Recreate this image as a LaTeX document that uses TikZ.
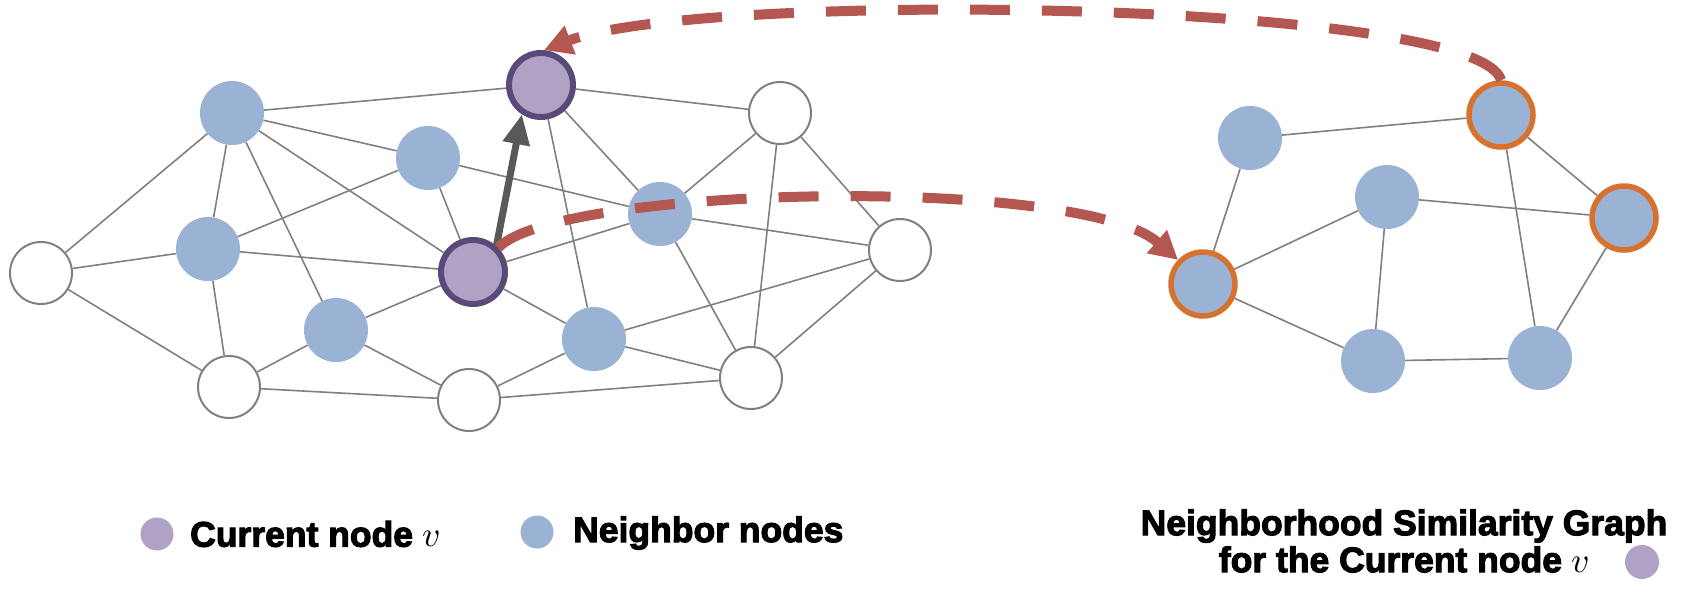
\documentclass[tikz,border=0pt]{standalone}
\usepackage{fontspec}
\setmainfont{Liberation Sans}
\newfontfamily\heavy{Liberation Sans}[BoldFeatures={FakeBold=3}]
\newfontfamily\lmmath{Latin Modern Math}
\usetikzlibrary{arrows.meta}
\definecolor{nblue}{RGB}{154,178,212}
\definecolor{pfill}{RGB}{176,162,196}
\definecolor{pborder}{RGB}{90,74,122}
\definecolor{oring}{RGB}{215,114,46}
\definecolor{edgegray}{RGB}{128,128,128}
\definecolor{dred}{RGB}{180,87,80}
\definecolor{agray}{RGB}{89,89,89}
\newcommand{\vmath}{{\lmmath\mdseries 𝑣}}
\begin{document}
\begin{tikzpicture}[x=1pt,y=-1pt,
  base/.style={circle, inner sep=0pt},
  bnode/.style={base, fill=nblue, minimum size=64pt},
  wnode/.style={base, fill=white, draw=edgegray, line width=2pt, minimum size=62pt},
  pnode/.style={base, fill=pfill, draw=pborder, line width=6pt, minimum size=64pt},
  onode/.style={base, fill=nblue, draw=oring, line width=5.5pt, minimum size=64pt},
  gline/.style={draw=edgegray, line width=1.6pt},
  redarrow/.style={draw=dred, line width=10pt, dash pattern=on 40pt off 32pt,
     -{Triangle[length=28pt,width=29pt]}},
  grayarrow/.style={draw=agray, line width=7pt, -{Triangle[length=30pt,width=26pt]}},
  dot/.style={circle, inner sep=0pt, minimum size=33pt},
  lbl/.style={font=\heavy\bfseries\fontsize{35.5}{37}\selectfont, inner sep=0pt}
]
\useasboundingbox (0,0) rectangle (1684,592);

% left graph nodes
\node[wnode] (W1) at (41,273) {};
\node[bnode] (B1) at (232,113) {};
\node[bnode] (B2) at (428,158) {};
\node[pnode] (Pt) at (541,85) {};
\node[bnode] (B3) at (208,249) {};
\node[pnode] (Pc) at (473,272) {};
\node[bnode] (B4) at (336,330) {};
\node[wnode] (W2) at (229,387) {};
\node[wnode] (W3) at (469,400) {};
\node[bnode] (B5) at (594,339) {};
\node[bnode] (B6) at (660,214) {};
\node[wnode] (W4) at (780,113) {};
\node[wnode] (W5) at (900,250) {};
\node[wnode] (W6) at (751,378) {};

% right graph nodes
\node[bnode] (R1) at (1250,138) {};
\node[onode] (R2) at (1501,115) {};
\node[bnode] (R3) at (1387,197) {};
\node[onode] (R4) at (1624,218) {};
\node[onode] (R5) at (1203,284) {};
\node[bnode] (R6) at (1373,361) {};
\node[bnode] (R7) at (1540,358) {};

% left graph edges
\foreach \a/\b in {W1/B1, W1/B3, W1/W2,
  B1/Pt, B1/B2, B1/Pc, B1/B3, B1/B4,
  B3/B2, B3/Pc, B3/W2,
  B2/B6, B2/Pc,
  Pt/B5, Pt/B6, Pt/W4,
  Pc/B6, Pc/B5, Pc/B4,
  B4/W2, B4/W3, W2/W3,
  B5/W3, B5/W5, B5/W6,
  B6/W4, B6/W5, B6/W6,
  W3/W6, W6/W4, W6/W5, W4/W5}
  \draw[gline] (\a) -- (\b);

% right graph edges
\foreach \a/\b in {R1/R2, R1/R5, R5/R3, R5/R6, R3/R6, R3/R4, R2/R4, R2/R7, R4/R7, R6/R7}
  \draw[gline] (\a) -- (\b);

% gray arrow
\draw[grayarrow] (Pc.48) -- (Pt.237);

% red dashed arrows
\draw[redarrow] (Pc.44) .. controls (560,185) and (1080,175) .. (R5.136);
\draw[redarrow] (R2.north) .. controls (1480,0) and (700,-10) .. (Pt.85);

% legend
\node[dot, fill=pfill] (d1) at (157,534) {};
\node[lbl, anchor=west] (t1) at (190,534) {Current node \vmath};
\node[dot, fill=nblue] (d2) at (537,532) {};
\node[lbl, anchor=west] (t2) at (573,533) {Neighbor nodes};
\node[lbl, align=center] (t3) at (1404,541) {Neighborhood Similarity Graph\\for the Current node \vmath};
\node[dot, fill=pfill, minimum size=34pt] (d3) at (1642,562) {};
\end{tikzpicture}
\end{document}
